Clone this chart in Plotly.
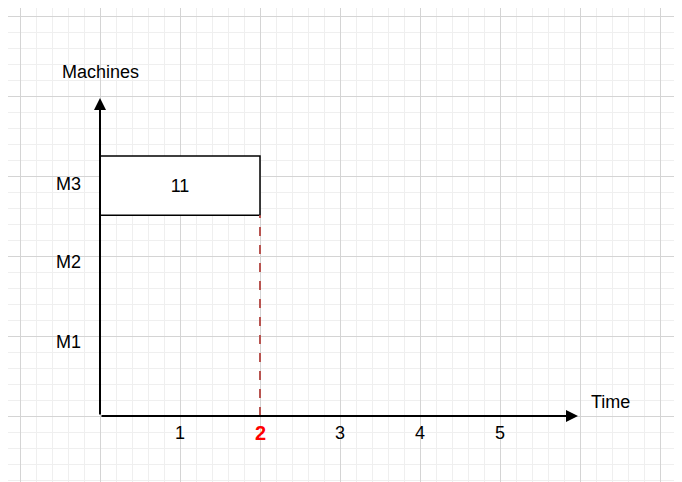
import plotly.graph_objects as go

# data
machines = ["M1", "M2", "M3"]
machine_y = [0.92, 1.92, 2.9]
time_ticks = [1, 2, 3, 4, 5]
highlight_time = 2
job_labels = ["11"]
job_machine_y = [2.88]
job_start = [0]
job_end = [2]

fig = go.Figure()

# job box as horizontal bar
fig.add_trace(go.Bar(
    y=job_machine_y, x=[e - s for s, e in zip(job_start, job_end)], base=job_start,
    orientation="h", width=0.74, text=job_labels, textposition="inside",
    insidetextanchor="middle", textfont=dict(size=18, color="black", family="Liberation Sans"),
    marker=dict(color="white", line=dict(color="black", width=1.5)),
    showlegend=False, hoverinfo="skip"))

# red dashed line at highlight time
fig.add_trace(go.Scatter(x=[highlight_time, highlight_time], y=[0, 2.51], mode="lines",
                         line=dict(color="#b85450", width=2, dash="dash"),
                         showlegend=False, hoverinfo="skip"))

# axes arrows
fig.add_annotation(x=5.975, y=0, ax=0, ay=0, xref="x", yref="y", axref="x", ayref="y",
                   showarrow=True, arrowhead=2, arrowsize=1.2, arrowwidth=2, arrowcolor="black", text="")
fig.add_annotation(x=0, y=3.975, ax=0, ay=0, xref="x", yref="y", axref="x", ayref="y",
                   showarrow=True, arrowhead=2, arrowsize=1.2, arrowwidth=2, arrowcolor="black", text="")

font = dict(size=18, color="black", family="Liberation Sans")
fig.add_annotation(x=0, y=4.3, text="Machines", showarrow=False, font=font)
fig.add_annotation(x=6.38, y=0.18, text="Time", showarrow=False, font=font)
for m, y in zip(machines, machine_y):
    fig.add_annotation(x=-0.39, y=y, text=m, showarrow=False, font=font)
for t in time_ticks:
    if t == highlight_time:
        fig.add_annotation(x=t, y=-0.21, text="<b>%d</b>" % t, showarrow=False,
                           font=dict(size=20, color="#ff0000", family="Liberation Sans"))
    else:
        fig.add_annotation(x=t, y=-0.21, text=str(t), showarrow=False, font=font)

fig.update_layout(
    width=682, height=482, margin=dict(l=0, r=0, t=0, b=0),
    plot_bgcolor="white", paper_bgcolor="white",
    xaxis=dict(range=[-1.15, 7.375], showgrid=True, gridcolor="#d4d4d4", dtick=1, tick0=0,
               minor=dict(dtick=0.2, showgrid=True, gridcolor="#efefef"),
               showticklabels=False, zeroline=False, ticks=""),
    yaxis=dict(range=[-0.925, 5.1], showgrid=True, gridcolor="#d4d4d4", dtick=1, tick0=0,
               minor=dict(dtick=0.2, showgrid=True, gridcolor="#efefef"),
               showticklabels=False, zeroline=False, ticks=""),
)

fig.write_html("out.html")
